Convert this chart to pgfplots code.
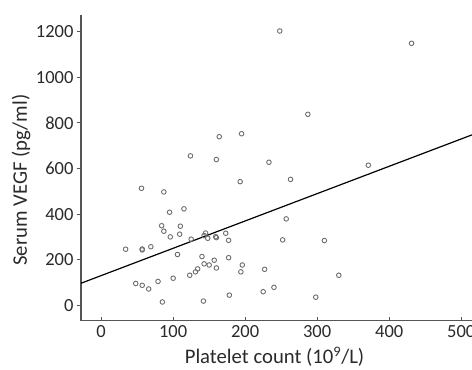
\documentclass[border=0pt]{standalone}
\usepackage{fontspec}
\setmainfont{Carlito}
\usepackage{pgfplots}
\pgfplotsset{compat=1.18}
\definecolor{axgray}{HTML}{555555}
\definecolor{mkgray}{HTML}{6E6E6E}
\definecolor{txt}{HTML}{2A2A2A}
\begin{document}
\begin{tikzpicture}
\begin{axis}[
  scale only axis,
  width=391pt, height=305.7pt,
  xmin=-28, xmax=515, ymin=-66, ymax=1273,
  axis x line=bottom, axis y line=left,
  axis line style={-, draw=axgray, line width=1.3pt},
  xtick={0,100,200,300,400,500},
  ytick={0,200,400,600,800,1000,1200},
  xtick align=inside, ytick align=outside,
  major tick length=4pt,
  tick style={draw=axgray, line width=1pt},
  /pgf/number format/assume math mode=true,
  /pgf/number format/1000 sep={},
  ticklabel style={font=\fontsize{18.5}{21}\selectfont, text=txt},
  xticklabel style={yshift=-1pt},
  yticklabel style={xshift=0pt},
  label style={font=\fontsize{20.7}{24}\selectfont, text=txt},
  xlabel={Platelet count (10\textsuperscript{9}/L)},
  ylabel={Serum VEGF (pg/ml)},
  xlabel style={at={(axis description cs:0.495,-0.118)}, anchor=center},
  ylabel style={at={(axis description cs:-0.153,0.46)}, anchor=center, rotate=0},
  clip=false,
]
\addplot[only marks, mark=o, mark size=2.3pt, mkgray, mark options={line width=0.9pt}] coordinates {
(124,656) (164,740) (195,753) (160,640) (233,628)
(248,1203) (431,1149) (287,838) (371,615) (263,553)
(193,543) (56,514) (87,498) (95,409) (115,424)
(84,350) (87,326) (110,348) (109,313) (96,301)
(125,291) (145,318) (143,307) (148,295) (159,302)
(160,298) (173,317) (177,286) (34,247) (57,248)
(57,244) (69,258) (106,224) (140,215) (157,199)
(143,183) (150,178) (160,165) (177,210) (196,178)
(194,148) (227,159) (134,161) (131,148) (123,133)
(100,120) (79,106) (48,97) (57,89) (66,73)
(85,16) (142,20) (178,46) (225,61) (257,380)
(252,288) (310,285) (330,133) (240,80) (298,37)
};
\addplot[black, line width=1.2pt] coordinates {(-28,98) (515,748)};
\end{axis}
\pgfresetboundingbox
\useasboundingbox (-81pt,-49.3pt) rectangle (391pt,320.7pt);
\end{tikzpicture}
\end{document}
